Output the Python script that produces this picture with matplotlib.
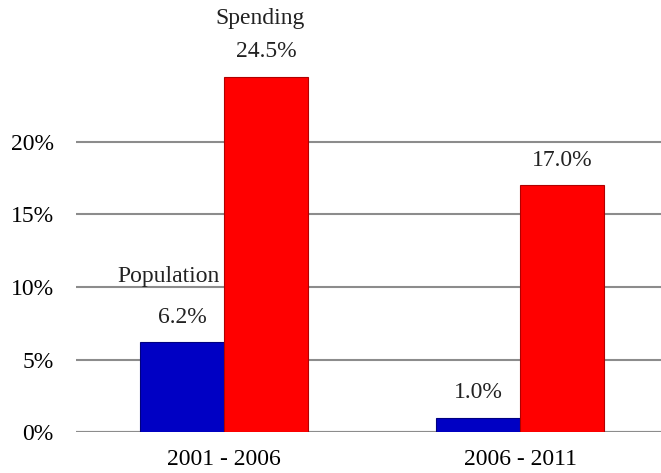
import matplotlib
matplotlib.use("Agg")
import matplotlib.pyplot as plt
import numpy as np

# data
periods = ["2001 - 2006", "2006 - 2011"]
population = [6.2, 1.0]
spending = [24.5, 17.0]
series_names = ["Population", "Spending"]
yticks = [0, 5, 10, 15, 20]

plt.rcParams['font.family'] = ['Liberation Serif', 'DejaVu Serif']
FS = 17

fig = plt.figure(figsize=(6.61, 4.73), dpi=100)
ax = fig.add_axes([76 / 661, 1 - 432 / 473, 1 - 76 / 661, 432 / 473])

x = np.arange(len(periods))
width = 0.284

ax.set_axisbelow(True)
ax.yaxis.grid(True, color='#8c8c8c', linewidth=1.5)
ax.axhline(0, color='#8c8c8c', linewidth=1.5, zorder=1)

pop_bars = ax.bar(x - width / 2, population, width, color='#0000c4',
                  edgecolor='#000080', linewidth=0.8, zorder=2)
spend_bars = ax.bar(x + width / 2, spending, width, color='#ff0000',
                    edgecolor='#b00000', linewidth=0.8, zorder=2)

# value labels above bars
for bars, vals in [(pop_bars, population), (spend_bars, spending)]:
    for b, v in zip(bars, vals):
        ax.annotate(f"{v:.1f}%", (b.get_x() + b.get_width() / 2, v),
                    xytext=(0, 18), textcoords='offset points',
                    ha='center', va='center', fontsize=FS, color='#222222')

# series names above the first group
ax.annotate(series_names[0], (pop_bars[0].get_x() + width / 2, population[0]),
            xytext=(-10, 47), textcoords='offset points',
            ha='center', va='center', fontsize=FS, color='#222222')
ax.annotate(series_names[1], (spend_bars[0].get_x() + width / 2, spending[0]),
            xytext=(-4, 42), textcoords='offset points',
            ha='center', va='center', fontsize=FS, color='#222222',
            annotation_clip=False)

ax.set_xlim(-0.5, 1.476)
ax.set_ylim(0, 432 / 14.5)
ax.set_yticks(yticks)
ax.set_yticklabels([f"{t}%" for t in yticks], fontsize=FS)
ax.set_xticks(x)
ax.set_xticklabels(periods, fontsize=FS)
ax.tick_params(axis='y', length=0, pad=16)
ax.tick_params(axis='x', length=0, pad=12)
for s in ax.spines.values():
    s.set_visible(False)

fig.savefig("out.png", dpi=100)
